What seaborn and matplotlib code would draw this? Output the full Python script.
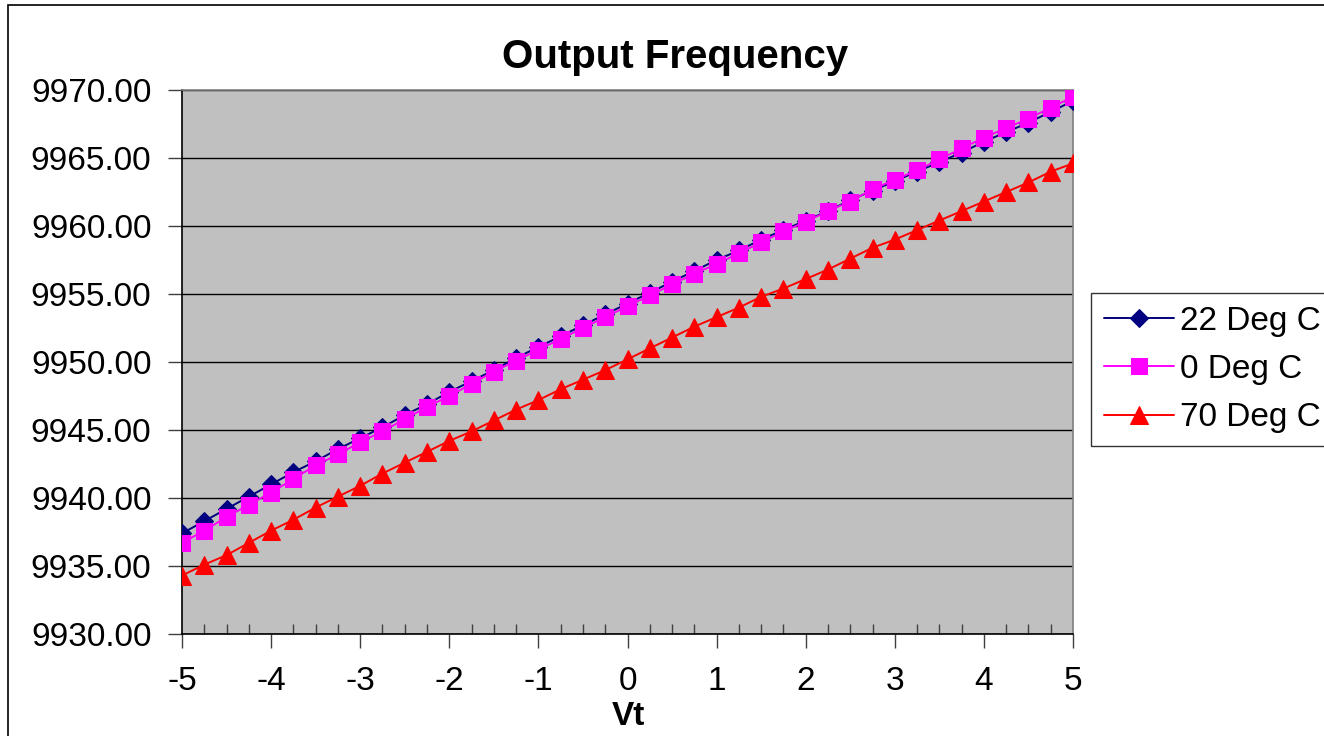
import numpy as np
import pandas as pd
import matplotlib.pyplot as plt
import matplotlib.ticker as mticker
from matplotlib.patches import Rectangle
import seaborn as sns

# Vt sweep, -5 .. 5 in 0.25 steps
vt = [-5.0, -4.75, -4.5, -4.25, -4.0, -3.75, -3.5, -3.25, -3.0, -2.75, -2.5,
      -2.25, -2.0, -1.75, -1.5, -1.25, -1.0, -0.75, -0.5, -0.25, 0.0,
      0.25, 0.5, 0.75, 1.0, 1.25, 1.5, 1.75, 2.0, 2.25, 2.5,
      2.75, 3.0, 3.25, 3.5, 3.75, 4.0, 4.25, 4.5, 4.75, 5.0]

freq_22 = [9937.4, 9938.3, 9939.2, 9940.1, 9941.0, 9941.9, 9942.7, 9943.6, 9944.4, 9945.2, 9946.1,
           9946.9, 9947.8, 9948.6, 9949.4, 9950.3, 9951.1, 9951.9, 9952.7, 9953.5, 9954.3,
           9955.1, 9955.9, 9956.7, 9957.5, 9958.2, 9959.0, 9959.7, 9960.4, 9961.1, 9961.9,
           9962.6, 9963.3, 9964.0, 9964.7, 9965.4, 9966.2, 9966.9, 9967.6, 9968.4, 9969.2]

freq_0 = [9936.7, 9937.6, 9938.6, 9939.5, 9940.4, 9941.4, 9942.4, 9943.2, 9944.1, 9944.9, 9945.8,
          9946.7, 9947.5, 9948.4, 9949.3, 9950.1, 9950.9, 9951.7, 9952.5, 9953.3, 9954.1,
          9954.9, 9955.7, 9956.5, 9957.2, 9958.0, 9958.8, 9959.6, 9960.3, 9961.1, 9961.8,
          9962.7, 9963.4, 9964.1, 9964.9, 9965.7, 9966.5, 9967.2, 9967.9, 9968.7, 9969.5]

freq_70 = [9934.3, 9935.1, 9935.8, 9936.7, 9937.6, 9938.4, 9939.3, 9940.1, 9940.9, 9941.8, 9942.6,
           9943.4, 9944.2, 9944.9, 9945.7, 9946.5, 9947.2, 9948.0, 9948.7, 9949.4, 9950.2,
           9951.0, 9951.8, 9952.6, 9953.3, 9954.0, 9954.8, 9955.4, 9956.1, 9956.8, 9957.6,
           9958.4, 9959.0, 9959.7, 9960.4, 9961.1, 9961.8, 9962.5, 9963.2, 9964.0, 9964.6]

series = ['22 Deg C', '0 Deg C', '70 Deg C']

df = pd.concat([
    pd.DataFrame({'Vt': vt, 'freq': freq_22, 'temp': series[0]}),
    pd.DataFrame({'Vt': vt, 'freq': freq_0, 'temp': series[1]}),
    pd.DataFrame({'Vt': vt, 'freq': freq_70, 'temp': series[2]}),
])

sns.set_style('white')
plt.rcParams['font.family'] = ['Liberation Sans', 'DejaVu Sans']
plt.rcParams['axes.unicode_minus'] = False
plt.rcParams['text.color'] = 'black'
plt.rcParams['xtick.color'] = 'black'
plt.rcParams['ytick.color'] = 'black'

fig = plt.figure(figsize=(13.24, 7.36), dpi=100)
ax = fig.add_axes([182 / 1324, 102 / 736, 891 / 1324, 544 / 736])
ax.set_facecolor('#C0C0C0')

palette = {'22 Deg C': '#000080', '0 Deg C': '#FF00FF', '70 Deg C': '#FF0000'}
markers = {'22 Deg C': 'D', '0 Deg C': 's', '70 Deg C': '^'}
sizes = {'22 Deg C': 9, '0 Deg C': 12, '70 Deg C': 13}

for name in series:
    sns.lineplot(data=df[df['temp'] == name], x='Vt', y='freq', ax=ax,
                 color=palette[name], marker=markers[name], markersize=sizes[name],
                 markeredgecolor=palette[name], linewidth=1.4, label=name, zorder=3)

ax.set_xlim(-5, 5)
ax.set_ylim(9930, 9970)
ax.yaxis.set_major_locator(mticker.MultipleLocator(5))
ax.yaxis.set_major_formatter(mticker.FormatStrFormatter('%.2f'))
ax.xaxis.set_major_locator(mticker.MultipleLocator(1))
ax.xaxis.set_minor_locator(mticker.MultipleLocator(0.25))
ax.grid(axis='y', color='black', linewidth=1)
ax.set_axisbelow(True)

ax.tick_params(axis='y', which='major', direction='out', length=10, width=1,
               color='#404040', labelsize=24, pad=12, left=True, labelcolor='black')
ax.tick_params(axis='x', which='major', direction='out', length=10, width=1,
               color='#404040', labelsize=24, pad=13, bottom=True, labelcolor='black')
ax.tick_params(axis='x', which='minor', direction='in', length=7, width=1,
               color='#404040', bottom=True)

for s in ['left', 'bottom']:
    ax.spines[s].set_color('black')
    ax.spines[s].set_linewidth(1.2)
for s in ['top', 'right']:
    ax.spines[s].set_color('#808080')
    ax.spines[s].set_linewidth(1.2)

ax.set_xlabel('')
ax.set_ylabel('')

leg = ax.legend(loc='upper left', bbox_to_anchor=(1091 / 1324, 1 - 293 / 736),
                bbox_transform=fig.transFigure, fontsize=24, frameon=True,
                fancybox=False, edgecolor='black', borderpad=0.38,
                handlelength=2.1, handletextpad=0.2, labelspacing=0.52,
                borderaxespad=0)
leg.get_frame().set_linewidth(1)
for t in leg.get_texts():
    t.set_color('black')

fig.text(675 / 1324, 1 - 57 / 736, 'Output Frequency', ha='center', va='center',
         fontsize=29, fontweight='bold', color='black')
fig.text(628 / 1324, 1 - 725 / 736, 'Vt', ha='center', va='baseline',
         fontsize=24, fontweight='bold', color='black')

# outer chart frame
fig.patches.append(Rectangle((8 / 1324, -0.1), 1.2, 1.1 - 5 / 736,
                             transform=fig.transFigure, fill=False,
                             edgecolor='black', linewidth=1.2))

fig.savefig('out.png', dpi=100)
